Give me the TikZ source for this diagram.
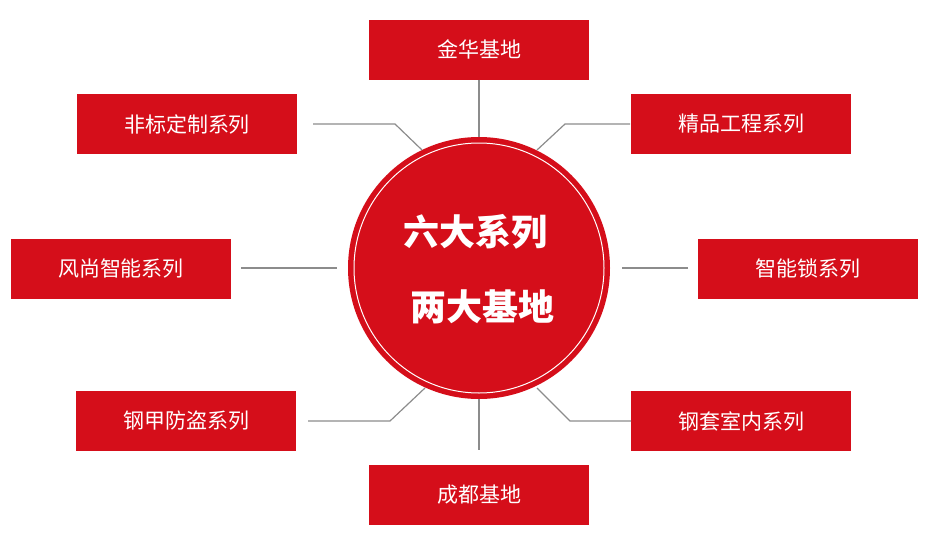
\documentclass[tikz,border=0pt]{standalone}
\usepackage{fontspec}
\setmainfont{Noto Sans CJK SC}
\definecolor{brandred}{HTML}{D50E1A}
\definecolor{linegray}{HTML}{8C8C8C}
\begin{document}
\begin{tikzpicture}[x=1pt, y=-1pt,
  box/.style={fill=brandred, text=white, minimum width=220pt, minimum height=60pt, inner sep=0pt, font=\fontsize{21}{24}\selectfont},
  link/.style={draw=linegray, line width=1.2pt}]

  \useasboundingbox (0,0) rectangle (930,554);

  % Hub
  \node[circle, fill=brandred, minimum size=262pt, inner sep=0pt] (hub) at (479,268) {};
  \draw[white, line width=1pt] (hub.center) circle [radius=125pt];
  \node[text=white, font=\bfseries\fontsize{36}{40}\selectfont] (t1) at (475,232) {六大系列};
  \node[text=white, font=\bfseries\fontsize{36}{40}\selectfont] (t2) at (482,307) {两大基地};

  % Boxes
  \node[box] (jinhua) at (479,49.5) {金华基地};
  \node[box] (feibiao) at (187,124) {非标定制系列};
  \node[box] (jingpin) at (741,124) {精品工程系列};
  \node[box] (fengshang) at (121,268.5) {风尚智能系列};
  \node[box] (suo) at (808,268.5) {智能锁系列};
  \node[box] (gangjia) at (186,421) {钢甲防盗系列};
  \node[box] (gangtao) at (741,421) {钢套室内系列};
  \node[box] (chengdu) at (479,494.5) {成都基地};

  % Connectors
  \coordinate (a1) at (313,124); \coordinate (a2) at (395,124); \coordinate (a3) at (422,150);
  \coordinate (b1) at (630,124); \coordinate (b2) at (565,124); \coordinate (b3) at (537,150);
  \coordinate (c1) at (241,268); \coordinate (c2) at (337,268);
  \coordinate (d1) at (688,268); \coordinate (d2) at (622,268);
  \coordinate (e1) at (308,421); \coordinate (e2) at (390,421); \coordinate (e3) at (425,388);
  \coordinate (f1) at (631,421); \coordinate (f2) at (570,421); \coordinate (f3) at (537,388);
  \path[link] (jinhua.south) -- (hub.north);
  \path[link] (hub.south) -- (479,450);
  \path[link] (a1) -- (a2) -- (a3);
  \path[link] (b1) -- (b2) -- (b3);
  \path[link] (c1) -- (c2);
  \path[link] (d1) -- (d2);
  \path[link] (e1) -- (e2) -- (e3);
  \path[link] (f1) -- (f2) -- (f3);

\end{tikzpicture}
\end{document}
